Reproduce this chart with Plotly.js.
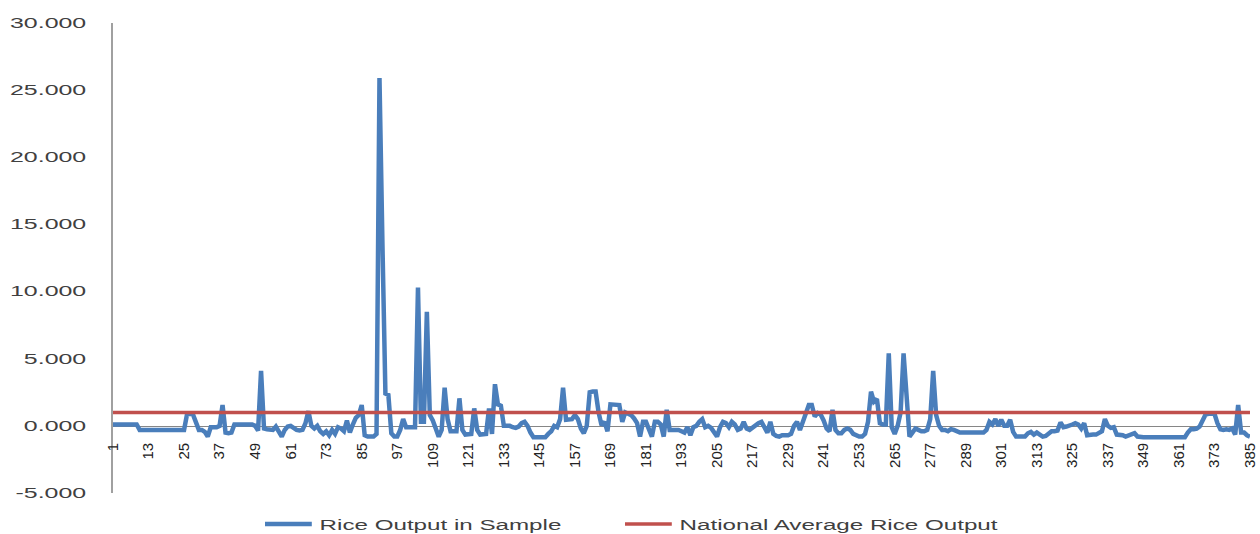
<!DOCTYPE html>
<html>
<head>
<meta charset="utf-8">
<script src="https://cdn.plot.ly/plotly-3.0.1.min.js"></script>
<style>
html,body{margin:0;padding:0;background:#fff;overflow:hidden}
#chart{width:1260px;height:534px}
</style>
</head>
<body>
<div id="chart"></div>
<script>
// ---- data ----
const riceOutputInSample = [
  0.1,0.1,0.1,0.1,0.1,0.1,0.1,0.1,0.1,-0.3,
  -0.3,-0.3,-0.3,-0.3,-0.3,-0.3,-0.3,-0.3,-0.3,-0.3,
  -0.3,-0.3,-0.3,-0.3,-0.3,0.85,0.9,0.85,0.2,-0.3,
  -0.3,-0.45,-0.8,-0.1,-0.1,-0.1,0.0,1.55,-0.5,-0.55,
  -0.5,0.1,0.1,0.1,0.1,0.1,0.1,0.1,0.0,-0.35,
  4.1,-0.2,-0.25,-0.25,-0.3,-0.05,-0.4,-0.8,-0.3,-0.05,
  0.0,-0.2,-0.3,-0.35,-0.3,0.2,1.1,0.0,-0.2,0.0,
  -0.4,-0.6,-0.4,-0.7,-0.3,-0.6,-0.1,-0.2,-0.4,0.4,
  -0.5,0.1,0.6,0.8,1.55,-0.7,-0.8,-0.8,-0.8,-0.6,
  25.9,13.5,2.4,2.3,-0.55,-0.8,-0.8,-0.3,0.5,-0.1,
  -0.1,-0.1,-0.1,10.3,0.3,0.3,8.5,0.8,0.4,-0.2,
  -0.8,-0.3,2.85,0.5,-0.4,-0.4,-0.4,2.05,-0.3,-0.65,
  -0.65,-0.6,1.3,-0.3,-0.65,-0.65,-0.6,1.3,-0.6,3.1,
  1.6,1.5,0.0,0.0,0.0,-0.1,-0.15,-0.05,0.2,0.3,
  0.0,-0.5,-0.85,-0.85,-0.85,-0.85,-0.85,-0.6,-0.4,0.0,
  -0.1,0.5,2.85,0.45,0.45,0.5,0.8,0.5,-0.2,-0.55,
  0.0,2.5,2.55,2.55,1.0,0.05,0.3,-0.4,1.6,1.6,
  1.6,1.55,0.3,1.0,0.9,0.8,0.55,0.2,-0.8,0.3,
  0.3,-0.3,-0.8,0.3,0.3,0.1,-0.8,1.2,-0.3,-0.3,
  -0.3,-0.3,-0.4,-0.5,-0.1,-0.7,-0.1,0.0,0.3,0.5,
  -0.1,0.0,-0.15,-0.5,-0.8,-0.1,0.3,0.2,-0.1,0.3,
  0.1,-0.3,-0.2,0.3,-0.2,-0.3,-0.1,0.1,0.2,0.3,
  -0.15,-0.5,0.3,-0.6,-0.75,-0.8,-0.7,-0.7,-0.7,-0.6,
  0.0,0.3,-0.3,0.3,1.0,1.55,1.55,0.7,0.95,0.85,
  0.4,-0.2,-0.4,1.2,-0.3,-0.55,-0.55,-0.3,-0.2,-0.3,
  -0.6,-0.75,-0.8,-0.8,-0.6,0.3,2.55,1.8,2.0,0.2,
  0.1,0.1,5.4,-0.1,-0.6,0.0,1.0,5.4,2.0,-0.8,
  -0.5,-0.2,-0.3,-0.4,-0.4,-0.3,0.5,4.1,0.8,0.0,
  -0.3,-0.3,-0.4,-0.25,-0.3,-0.4,-0.5,-0.5,-0.5,-0.5,
  -0.5,-0.5,-0.5,-0.5,-0.5,-0.3,0.3,0.1,0.5,0.0,
  0.45,0.0,0.0,0.45,-0.45,-0.8,-0.8,-0.8,-0.8,-0.55,
  -0.45,-0.65,-0.5,-0.65,-0.8,-0.75,-0.55,-0.4,-0.4,-0.35,
  0.25,-0.1,-0.05,0.0,0.1,0.2,0.1,-0.2,0.2,-0.7,
  -0.65,-0.65,-0.65,-0.55,-0.4,0.5,0.0,-0.15,-0.1,-0.65,
  -0.65,-0.7,-0.8,-0.7,-0.65,-0.55,-0.8,-0.85,-0.85,-0.85,
  -0.85,-0.85,-0.85,-0.85,-0.85,-0.85,-0.85,-0.85,-0.85,-0.85,
  -0.85,-0.85,-0.85,-0.5,-0.25,-0.25,-0.2,-0.05,0.5,0.85,
  0.9,0.9,0.9,0.2,-0.25,-0.3,-0.25,-0.3,-0.2,-0.65,
  1.55,-0.5,-0.5,-0.7,-0.8
];
const nationalAverageRiceOutput = 1.0;
const seriesNames = ['Rice Output in Sample', 'National Average Rice Output'];
const xTickLabels = [1,13,25,37,49,61,73,85,97,109,121,133,145,157,169,181,193,205,217,229,241,253,265,277,289,301,313,325,337,349,361,373,385];
const yTickValues = [-5,0,5,10,15,20,25,30];
const yTickLabels = ['-5.000','0.000','5.000','10.000','15.000','20.000','25.000','30.000'];

// ---- build ----
const categories = riceOutputInSample.map((v, i) => i + 1);
const nationalSeries = categories.map(() => nationalAverageRiceOutput);

const traces = [
  {x: categories, y: riceOutputInSample, name: seriesNames[0], type: 'scatter', mode: 'lines',
   line: {color: '#4a7ebb', width: 4.5}, hoverinfo: 'skip'},
  {x: categories, y: nationalSeries, name: seriesNames[1], type: 'scatter', mode: 'lines',
   line: {color: '#c0504d', width: 3.5}, hoverinfo: 'skip'}
];

const layout = {
  width: 1260, height: 534,
  margin: {l: 113, r: 10, t: 23, b: 41, autoexpand: false},
  paper_bgcolor: '#ffffff', plot_bgcolor: '#ffffff',
  font: {family: '"Liberation Sans", Arial, sans-serif', color: '#404040'},
  showlegend: true,
  legend: {orientation: 'h', x: 0.13, xanchor: 'left', y: 0.0, yanchor: 'top',
           font: {size: 15.5, color: '#404040'}, bgcolor: 'rgba(0,0,0,0)', borderwidth: 0},
  xaxis: {type: 'linear', range: [1, 385], anchor: 'free', position: 1/7,
          showline: true, linecolor: '#868686', linewidth: 1, showgrid: false, zeroline: false,
          ticks: '', tickmode: 'array', tickvals: xTickLabels, ticktext: xTickLabels.map(String),
          tickangle: -90, tickfont: {size: 15, color: '#222222'}, ticklabelstandoff: 10,
          layer: 'below traces', fixedrange: true},
  yaxis: {range: [-5, 30], tickmode: 'array', tickvals: yTickValues, ticktext: yTickLabels,
          showline: true, linecolor: '#a0a0a0', linewidth: 2, showgrid: false, zeroline: false,
          ticks: '', tickfont: {size: 14, color: '#404040'}, ticklabelstandoff: 22,
          layer: 'below traces', fixedrange: true}
};

const Y_STRETCH = 1.78;
const LEG_STRETCH = 1.56;

Plotly.newPlot('chart', traces, layout, {staticPlot: true, displayModeBar: false}).then(gd => {
  // horizontally widened tick labels, as in the reference picture
  gd.querySelectorAll('.ytick text').forEach(t => {
    const x = parseFloat(t.getAttribute('x')) || 0;
    const tr = t.getAttribute('transform') || '';
    t.setAttribute('transform', tr + ' translate(' + x + ',0) scale(' + Y_STRETCH + ',1) translate(' + (-x) + ',0)');
  });
  // widened legend, placed as in the reference
  const leg = gd.querySelector('g.legend');
  if (!leg) return;
  leg.querySelectorAll('[clip-path]').forEach(el => el.removeAttribute('clip-path'));
  const m = /translate\(\s*([-\d.e]+)[\s,]+([-\d.e]+)\s*\)/.exec(leg.getAttribute('transform') || '');
  let tx = m ? +m[1] : 0, ty = m ? +m[2] : 0;
  const setLeg = () => leg.setAttribute('transform', 'translate(' + tx + ',' + ty + ') scale(' + LEG_STRETCH + ',1)');
  setLeg();
  const items = leg.querySelectorAll('g.traces');
  const lineRect = it => it.querySelector('.legendlines path').getBoundingClientRect();
  const r0 = lineRect(items[0]);
  tx += 265 - r0.left;
  ty += 524 - (r0.top + r0.height / 2);
  setLeg();
  if (items[1]) {
    const r1 = lineRect(items[1]);
    const d = 625 - r1.left;
    const mm = /translate\(\s*([-\d.e]+)[\s,]+([-\d.e]+)\s*\)/.exec(items[1].getAttribute('transform') || '');
    if (mm) items[1].setAttribute('transform', 'translate(' + (+mm[1] + d / LEG_STRETCH) + ',' + mm[2] + ')');
  }
});
</script>
</body>
</html>
